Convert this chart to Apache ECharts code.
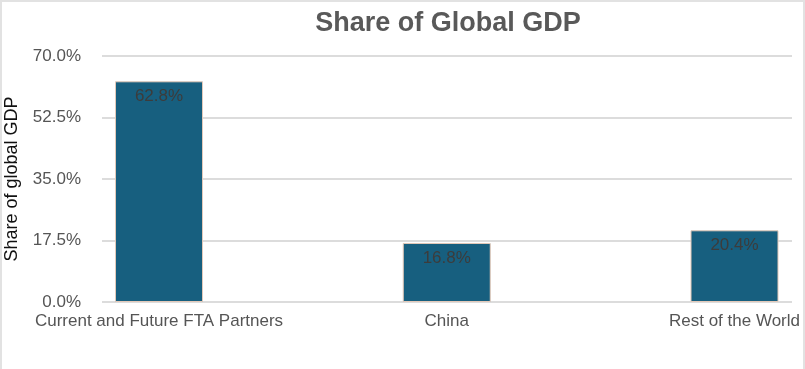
<!DOCTYPE html>
<html>
<head>
<meta charset="utf-8">
<script src="https://cdn.jsdelivr.net/npm/echarts@6/dist/echarts.min.js"></script>
<style>
html,body{margin:0;padding:0;background:#fff;}
#frame{position:absolute;left:0;top:0;width:805px;height:369px;box-sizing:border-box;border:2px solid #e2e2e2;border-bottom:none;}
#chart{position:absolute;left:0;top:0;width:805px;height:369px;}
</style>
</head>
<body>
<div id="frame"></div>
<div id="chart"></div>
<script>
const categories = ['Current and Future FTA Partners', 'China', 'Rest of the World'];
const shareValues = [62.8, 16.8, 20.4];
const yTicks = [0, 17.5, 35, 52.5, 70];

const chart = echarts.init(document.getElementById('chart'), null, {renderer: 'canvas'});
const font = '"Liberation Sans", Arial, sans-serif';
chart.setOption({
  animation: false,
  title: {
    text: 'Share of Global GDP',
    left: 443, top: 5, textAlign: 'center',
    textStyle: {fontFamily: font, fontSize: 27, fontWeight: 'bold', color: '#595959'}
  },
  grid: [
    {left: 102, right: 13, top: 56, bottom: 67, outerBoundsMode: 'none', containLabel: false},
    {left: 159, right: 70.5, top: 56, bottom: 67, outerBoundsMode: 'none', containLabel: false}
  ],
  xAxis: [
    {type: 'category', gridIndex: 0, data: categories, show: false},
    {type: 'category', gridIndex: 1, data: categories, boundaryGap: false,
     axisLine: {show: false}, axisTick: {show: false},
     axisLabel: {fontFamily: font, fontSize: 17, color: '#555', margin: 11, interval: 0}}
  ],
  yAxis: [
    {type: 'value', gridIndex: 0, min: yTicks[0], max: yTicks[yTicks.length - 1], interval: 17.5,
     name: 'Share of global GDP', nameLocation: 'middle', nameGap: 81, nameRotate: 90,
     nameMoveOverlap: false,
     nameTextStyle: {fontFamily: font, fontSize: 18, color: '#111'},
     axisLine: {show: false}, axisTick: {show: false},
     axisLabel: {fontFamily: font, fontSize: 17, color: '#555', margin: 21,
       formatter: v => v.toFixed(1) + '%'},
     splitLine: {lineStyle: {color: '#dcdcdc', width: 2}}},
    {type: 'value', gridIndex: 1, min: yTicks[0], max: yTicks[yTicks.length - 1], interval: 17.5, show: false,
     splitLine: {show: false}}
  ],
  series: [{
    type: 'bar', xAxisIndex: 1, yAxisIndex: 1,
    data: shareValues, barWidth: 88,
    itemStyle: {color: '#175f7f', borderColor: '#e3c9b9', borderWidth: 1},
    label: {show: true, position: 'insideTop', distance: 7,
      fontFamily: font, fontSize: 17, color: '#3c3c3c',
      formatter: p => p.value.toFixed(1) + '%'}
  }]
});
</script>
</body>
</html>
